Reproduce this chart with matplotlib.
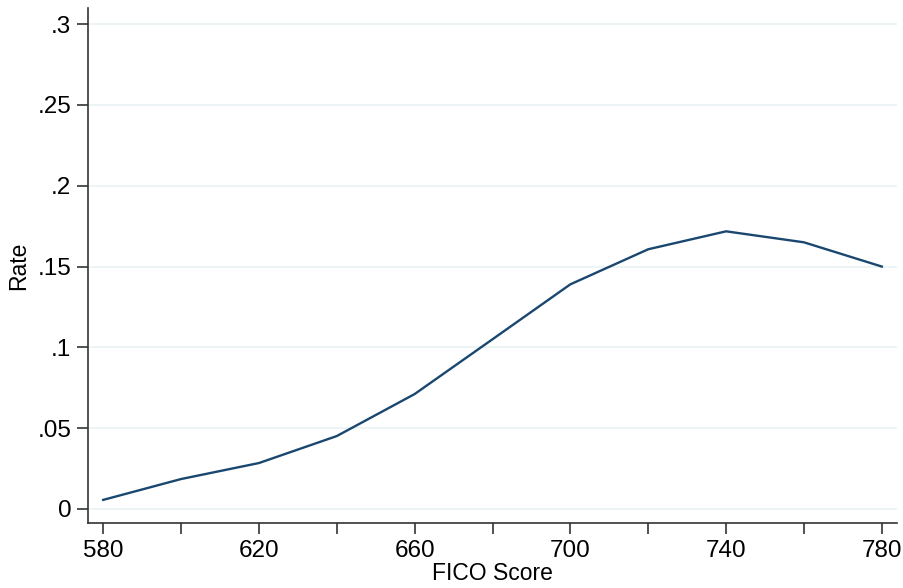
import matplotlib
matplotlib.use("Agg")
import matplotlib.pyplot as plt
import numpy as np

plt.rcParams["font.family"] = ["Liberation Sans", "DejaVu Sans"]

fico = [580, 600, 620, 640, 660, 680, 700, 720, 740, 760, 780]
rate = [0.0056, 0.0185, 0.0284, 0.0451, 0.0711, 0.105, 0.139, 0.1607, 0.1718, 0.165, 0.150]
yticks = [0, 0.05, 0.1, 0.15, 0.2, 0.25, 0.3]
ylabels = ["0", ".05", ".1", ".15", ".2", ".25", ".3"]
xticks = list(range(580, 781, 20))
xlabels = [str(x) if (x - 580) % 40 == 0 else "" for x in xticks]

fig = plt.figure(figsize=(9.04, 5.88), dpi=100)
ax = fig.add_axes([88 / 904, 1 - 523 / 588, (897 - 88) / 904, (523 - 8) / 588])

for y in yticks:
    ax.axhline(y, color="#eaf2f3", lw=1.2, zorder=0)
ax.plot(fico, rate, color="#1a476f", lw=1.7)

ax.set_xlim(576.1, 783.9)
ax.set_ylim(-0.0087, 0.31)
ax.set_yticks(yticks)
ax.set_yticklabels(ylabels)
ax.set_xticks(xticks)
ax.set_xticklabels(xlabels)
ax.tick_params(axis="both", direction="out", length=8, width=1.2, color="#333333",
               labelsize=17.5, pad=4)
for s in ["top", "right"]:
    ax.spines[s].set_visible(False)
for s in ["left", "bottom"]:
    ax.spines[s].set_color("#333333")
    ax.spines[s].set_linewidth(1.2)

ax.set_xlabel("FICO Score", fontsize=16.5, labelpad=0)
ax.set_ylabel("Rate", fontsize=16.5, labelpad=5)

fig.savefig("out.png", dpi=100, facecolor="white")
